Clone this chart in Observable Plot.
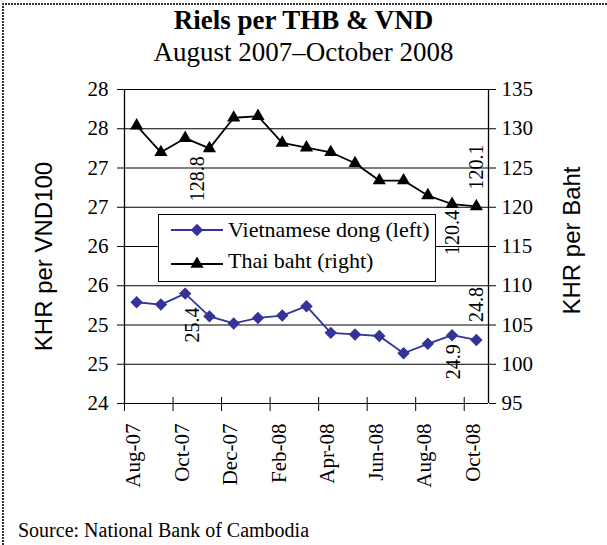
<!DOCTYPE html>
<html>
<head>
<meta charset="utf-8">
<script src="https://cdn.jsdelivr.net/npm/d3@7"></script>
<script src="https://cdn.jsdelivr.net/npm/@observablehq/plot@0.6"></script>
<style>
  body { margin: 0; background: #fff; }
  #wrap { position: relative; width: 607px; height: 545px; overflow: hidden; background: #fff;
          font-family: "Liberation Serif", "Times New Roman", serif; color: #000; }
  #chart { position: absolute; left: 0; top: 0; }
  .bl { position: absolute; left: 2px; top: 3px; width: 2px; height: 542px;
        background: repeating-linear-gradient(to bottom, #333 0 2px, transparent 2px 3px); }
  .bt { position: absolute; left: 2px; top: 3px; height: 2px; width: 605px;
        background: repeating-linear-gradient(to right, #333 0 2px, transparent 2px 3px); }
  .title { position: absolute; left: 0; width: 607px; text-align: center; white-space: nowrap; }
  #t1 { top: 7px; font-size: 27px; line-height: 27px; font-weight: bold; }
  #t2 { top: 39px; font-size: 27px; line-height: 27px; }
  #src { position: absolute; left: 18px; top: 520px; font-size: 20px; line-height: 20px; white-space: nowrap; }
  #legend { position: absolute; left: 158px; top: 214px; }
</style>
</head>
<body>
<div id="wrap">
  <div id="chart"></div>
  <div class="bl"></div>
  <div class="bt"></div>
  <div class="title" id="t1">Riels per THB &amp; VND</div>
  <div class="title" id="t2">August 2007–October 2008</div>
  <div id="legend"></div>
  <div id="src">Source: National Bank of Cambodia</div>
</div>
<script>
// ---- data ----
const months = ["Aug-07","Sep-07","Oct-07","Nov-07","Dec-07","Jan-08","Feb-08","Mar-08","Apr-08","May-08","Jun-08","Jul-08","Aug-08","Sep-08","Oct-08"];
const vnd = [25.29, 25.26, 25.40, 25.11, 25.02, 25.09, 25.12, 25.24, 24.90, 24.88, 24.86, 24.64, 24.76, 24.87, 24.81];
const thb = [130.4, 127.0, 128.8, 127.5, 131.4, 131.6, 128.2, 127.6, 127.0, 125.6, 123.4, 123.4, 121.5, 120.4, 120.1];
const leftTicks = [24, 24.5, 25, 25.5, 26, 26.5, 27, 27.5, 28];
const rightTicks = [95, 100, 105, 110, 115, 120, 125, 130, 135];
const seriesNames = ["Vietnamese dong (left)", "Thai baht (right)"];
const axisTitles = ["KHR per VND100", "KHR per Baht"];
const vndLabels = [{i: 2, side: "below"}, {i: 13, side: "below"}, {i: 14, side: "above"}];
const thbLabels = [{i: 2, side: "below"}, {i: 13, side: "below"}, {i: 14, side: "above"}];

// ---- styles ----
const blue = "#333399";
const black = "#000000";
const serif = "Liberation Serif, Times New Roman, serif";
const sans = "Liberation Sans, Arial, sans-serif";
// label offsets (dx, gap) keyed by series/index
const labelStyle = {
  "vnd2": {dx: 7, gap: 14}, "vnd13": {dx: 1, gap: 9}, "vnd14": {dx: 0, gap: 18},
  "thb2": {dx: 12, gap: 18}, "thb13": {dx: 0, gap: 6}, "thb14": {dx: 0, gap: 17}
};

// map right-axis values onto left-axis domain
const L0 = leftTicks[0], L1 = leftTicks[leftTicks.length - 1];
const R0 = rightTicks[0], R1 = rightTicks[rightTicks.length - 1];
const toLeft = v => L0 + (v - R0) * (L1 - L0) / (R1 - R0);
const toRight = v => R0 + (v - L0) * (R1 - R0) / (L1 - L0);

const vndData = vnd.map((v, i) => ({x: i + 0.5, y: v, v}));
const thbData = thb.map((v, i) => ({x: i + 0.5, y: toLeft(v), v}));
const xTicks = months.map((m, i) => i).filter(i => i % 2 === 0);

function labelMarks(data, labels, key) {
  return labels.map(l => {
    const st = labelStyle[key + l.i];
    const d = data[l.i];
    return Plot.text([d], {
      x: "x", y: "y", text: p => p.v.toFixed(1),
      rotate: -90, textAnchor: l.side === "below" ? "end" : "start", lineAnchor: "middle",
      dx: st.dx, dy: l.side === "below" ? st.gap : -st.gap,
      fontSize: 20, fontFamily: serif, fill: black
    });
  });
}

const chart = Plot.plot({
  width: 607, height: 545,
  marginLeft: 124, marginRight: 119, marginTop: 89, marginBottom: 142,
  style: {fontFamily: serif, fontSize: "21px", background: "transparent", color: "#000"},
  x: {domain: [0, months.length], axis: null},
  y: {domain: [L0, L1], axis: null},
  marks: [
    Plot.ruleY(leftTicks, {stroke: black, strokeWidth: 1}),
    Plot.ruleX([0, months.length], {stroke: black, strokeWidth: 1.3}),
    Plot.axisY(leftTicks, {anchor: "left", tickSize: 7, tickPadding: 9, tickFormat: d => String(Math.round(d)), label: null, fontSize: 21, fontFamily: serif}),
    Plot.axisY(rightTicks.map(toLeft), {anchor: "right", tickSize: 7, tickPadding: 6, tickFormat: d => String(Math.round(toRight(d))), label: null, fontSize: 21, fontFamily: serif}),
    Plot.axisX(xTicks, {anchor: "bottom", tickSize: 14, dy: -6, tickFormat: () => "", label: null}),
    Plot.axisX(xTicks, {anchor: "bottom", tickSize: 0, tickPadding: 20, tickRotate: -90, textAnchor: "end", lineAnchor: "middle", dx: 9, tickFormat: i => months[i], label: null, fontSize: 21, fontFamily: serif}),
    Plot.text([axisTitles[0]], {text: d => d, frameAnchor: "left", rotate: -90, dx: -80, dy: 10, fontFamily: sans, fontSize: 24, textAnchor: "middle", lineAnchor: "middle"}),
    Plot.text([axisTitles[1]], {text: d => d, frameAnchor: "right", rotate: -90, dx: 84, dy: -6, fontFamily: sans, fontSize: 24, textAnchor: "middle", lineAnchor: "middle"}),
    Plot.line(thbData, {x: "x", y: "y", stroke: black, strokeWidth: 1.8}),
    Plot.dot(thbData, {x: "x", y: "y", symbol: "triangle", r: 4.9, fill: black, stroke: null}),
    Plot.line(vndData, {x: "x", y: "y", stroke: blue, strokeWidth: 1.8}),
    Plot.dot(vndData, {x: "x", y: "y", symbol: "diamond2", r: 5.6, fill: blue, stroke: null}),
    ...labelMarks(thbData, thbLabels, "thb"),
    ...labelMarks(vndData, vndLabels, "vnd")
  ]
});
document.getElementById("chart").appendChild(chart);

// ---- legend ----
const lg = d3.select("#legend").append("svg").attr("width", 279).attr("height", 69);
lg.append("rect").attr("x", 0.5).attr("y", 0.5).attr("width", 277).attr("height", 67)
  .attr("fill", "#fff").attr("stroke", "#000").attr("stroke-width", 1);
const rows = [
  {name: seriesNames[0], color: blue, sym: d3.symbolDiamond2, size: Math.PI * 5.6 * 5.6, y: 16, ty: 22.7},
  {name: seriesNames[1], color: black, sym: d3.symbolTriangle, size: Math.PI * 4.9 * 4.9, y: 50, ty: 54.3}
];
rows.forEach(r => {
  lg.append("line").attr("x1", 13).attr("x2", 65).attr("y1", r.y).attr("y2", r.y)
    .attr("stroke", r.color).attr("stroke-width", 1.8);
  lg.append("path").attr("d", d3.symbol(r.sym, r.size)()).attr("transform", `translate(39,${r.y})`).attr("fill", r.color);
  lg.append("text").attr("x", 70).attr("y", r.ty).attr("font-family", serif).attr("font-size", 22).text(r.name);
});
</script>
</body>
</html>
